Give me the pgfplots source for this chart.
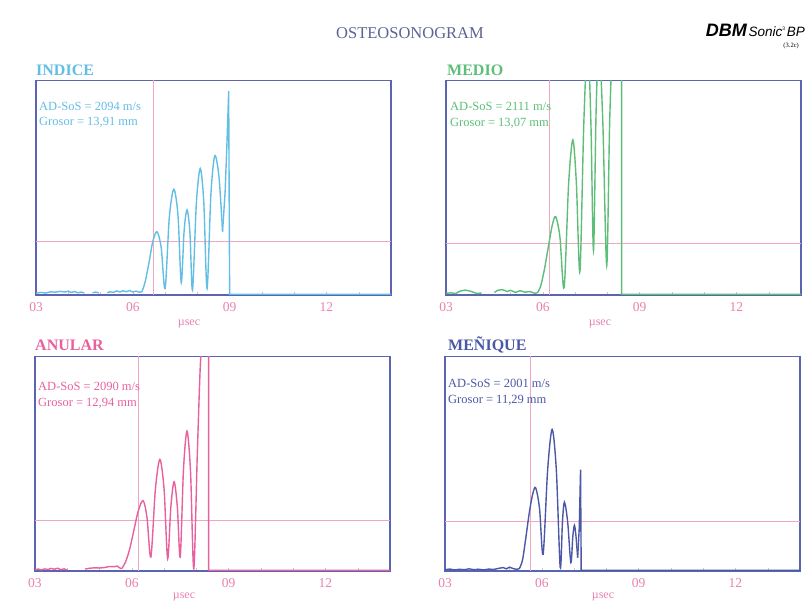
\documentclass[border=0pt]{standalone}
\usepackage{fontspec}
\setmainfont{Liberation Serif}
\newfontfamily\logofont{Liberation Sans}
\usepackage{pgfplots}
\pgfplotsset{compat=1.18}
\definecolor{cI}{HTML}{62BEE4}
\definecolor{cM}{HTML}{5CBE78}
\definecolor{cA}{HTML}{E8609E}
\definecolor{cN}{HTML}{4A58A6}
\definecolor{frame}{HTML}{5A64B0}
\definecolor{crossc}{HTML}{F0A8C2}
\definecolor{tickl}{HTML}{E880B0}
\definecolor{ttl}{HTML}{5A6494}
\pgfplotsset{panel/.style={
  anchor=south west, scale only axis, width=355pt, height=214.5pt,
  xmin=3, xmax=14, ymin=0, ymax=100,
  axis line style={frame, line width=1.2pt},
  xtick={3,6,9,12}, xticklabels={03,06,09,12},
  minor xtick={4,5,7,8,10,11,13},
  ytick=\empty, xtick pos=bottom, tick align=inside,
  major tick length=3pt, minor tick length=3pt,
  tick style={gray!45, thin},
  xticklabel style={font=\fontsize{13.5}{13.5}\selectfont, text=tickl, yshift=-4pt},
  unbounded coords=jump,
},
sig/.style={line width=1.4pt},
crossl/.style={draw=crossc, line width=0.7pt}}
\begin{document}
\begin{tikzpicture}
\path[use as bounding box] (0,0) rectangle (808pt,607pt);
% INDICE
\begin{axis}[panel, at={(36pt,312pt)}]
\addplot[crossl] coordinates {(6.65,0)(6.65,100)};
\addplot[crossl] coordinates {(3,25.2)(14,25.2)};
\addplot[sig, cI] coordinates {(3.0,0.8)(3.15,1.2)(3.3,0.9)(3.45,1.5)(3.6,1.3)(3.75,1.7)(3.9,1.4)(4.0,1.8)(4.1,1.2)(4.2,1.6)(4.3,1.0)(4.4,1.4)(4.5,0.9)(4.6,nan)(4.75,1.0)(4.85,1.4)(4.95,0.9)(5.05,nan)(5.2,1.1)(5.3,1.5)(5.4,1.2)(5.5,1.9)(5.6,1.4)(5.7,2.0)(5.8,1.5)(5.9,2.1)(6.0,1.4)(6.1,1.8)(6.2,1.3)(6.28,1.5)};
\addplot[sig, cI, smooth] coordinates {(6.28,1.5)(6.38,6)(6.5,15)(6.62,25)(6.75,29.5)(6.88,22)(7.0,3)(7.13,36)(7.27,49.3)(7.4,37)(7.5,5.8)(7.59,30)(7.68,39.7)(7.77,29)(7.85,2.3)(7.97,43)(8.09,59)(8.2,43)(8.3,3)(8.42,47)(8.54,64.9)(8.67,55)(8.78,29.5)};
\addplot[sig, cI] coordinates {(8.78,29.5)(8.86,48)(8.92,72)(8.97,95)(9.0,0.3)(14,0.3)};
\end{axis}
% MEDIO
\begin{axis}[panel, at={(446pt,312pt)}]
\addplot[crossl] coordinates {(6.2,0)(6.2,100)};
\addplot[crossl] coordinates {(3,24)(14,24)};
\addplot[sig, cM] coordinates {(3.0,0.8)(3.15,1.0)(3.3,0.7)(3.45,1.9)(3.6,2.3)(3.75,1.8)(3.9,1.0)(4.0,0.6)(4.1,1.0)(4.3,nan)(4.5,1.2)(4.6,2.2)(4.75,2.5)(4.9,1.6)(5.0,2.2)(5.15,1.2)(5.3,2.0)(5.45,1.3)(5.6,1.6)(5.75,0.8)(5.83,1.0)};
\addplot[sig, cM, smooth] coordinates {(5.83,1.0)(5.93,4)(6.05,12)(6.2,25)(6.30,33)(6.40,36.5)(6.53,27)(6.66,3.4)(6.80,52)(6.93,72.3)(7.04,52)(7.15,10.9)(7.27,80)(7.39,118)(7.49,80)(7.57,20.7)(7.65,85)(7.74,118)(7.86,80)(7.98,13.7)(8.07,80)(8.16,120)};
\addplot[sig, cM] coordinates {(8.16,120)(8.44,140)(8.44,0.3)(14,0.3)};
\end{axis}
% ANULAR
\begin{axis}[panel, at={(35pt,36pt)}]
\addplot[crossl] coordinates {(6.2,0)(6.2,100)};
\addplot[crossl] coordinates {(3,23.8)(14,23.8)};
\addplot[sig, cA] coordinates {(3.0,0.6)(3.1,0.9)(3.2,0.5)(3.3,1.0)(3.4,0.7)(3.5,1.2)(3.6,0.8)(3.7,1.3)(3.8,0.6)(3.9,1.0)(4.0,0.5)(4.3,nan)(4.55,0.9)(4.7,1.3)(4.85,1.5)(5.0,1.4)(5.15,1.6)(5.3,2.1)(5.45,2.0)(5.55,2.3)(5.62,1.5)(5.68,1.0)};
\addplot[sig, cA, smooth] coordinates {(5.68,1.0)(5.8,4)(5.93,10)(6.05,18)(6.2,28)(6.35,32.8)(6.47,25)(6.59,6.5)(6.73,38)(6.87,52)(7.0,38)(7.11,5.7)(7.21,30)(7.31,41.6)(7.41,30)(7.5,6.5)(7.6,47)(7.71,65.2)(7.82,46)(7.92,1.0)(8.03,55)(8.12,95)(8.2,115)};
\addplot[sig, cA] coordinates {(8.2,115)(8.38,130)(8.38,0.3)(14,0.3)};
\end{axis}
% MENIQUE
\begin{axis}[panel, at={(445pt,36pt)}]
\addplot[crossl] coordinates {(5.65,0)(5.65,100)};
\addplot[crossl] coordinates {(3,23.1)(14,23.1)};
\addplot[sig, cN] coordinates {(3.0,0.6)(3.15,0.9)(3.3,0.5)(3.45,0.8)(3.6,0.6)(3.75,1.0)(3.9,0.6)(4.05,0.8)(4.2,0.5)(4.35,0.9)(4.5,0.7)(4.65,1.2)(4.8,1.6)(4.9,1.0)(5.0,1.8)(5.1,1.2)(5.2,0.8)(5.3,1.0)};
\addplot[sig, cN, smooth] coordinates {(5.3,1.0)(5.4,5)(5.5,15)(5.62,28)(5.72,36)(5.81,38.8)(5.93,29)(6.04,7.8)(6.18,47)(6.32,66)(6.45,47)(6.57,1.6)(6.64,23)(6.70,32.1)(6.80,23)(6.90,3.9)(6.96,16)(7.01,21.3)(7.06,16)(7.11,6.2)};
\addplot[sig, cN] coordinates {(7.11,6.2)(7.16,20)(7.20,47.2)(7.22,0.3)(14,0.3)};
\end{axis}
% texts
\node[text=ttl, font=\fontsize{16.5}{16.5}\selectfont] at (410pt,574pt) {OSTEOSONOGRAM};
\node[anchor=east, inner sep=0] at (805pt,577pt) {{\logofont\fontsize{18}{18}\selectfont\bfseries\itshape DBM}\,{\logofont\fontsize{13.5}{13.5}\selectfont\itshape Sonic}\raisebox{6pt}{\logofont\fontsize{5}{5}\selectfont 3}\,{\logofont\fontsize{13.5}{13.5}\selectfont\itshape BP}};
\node[anchor=east, inner sep=0, font=\fontsize{6.5}{6.5}\selectfont] at (799pt,561pt) {(3.2c)};
\node[anchor=west, inner sep=0, text=cI, font=\fontsize{16}{16}\selectfont\bfseries] at (36pt,537pt) {INDICE};
\node[anchor=west, inner sep=0, text=cM, font=\fontsize{16}{16}\selectfont\bfseries] at (447pt,537pt) {MEDIO};
\node[anchor=west, inner sep=0, text=cA, font=\fontsize{16}{16}\selectfont\bfseries] at (35pt,262pt) {ANULAR};
\node[anchor=west, inner sep=0, text=cN, font=\fontsize{16}{16}\selectfont\bfseries] at (448pt,262pt) {MEÑIQUE};
\begin{scope}[every node/.style={anchor=west, inner sep=0, font=\fontsize{12.5}{12.5}\selectfont}]
\node[text=cI] at (39pt,501pt) {AD-SoS = 2094 m/s};
\node[text=cI] at (39pt,485pt) {Grosor = 13,91 mm};
\node[text=cM] at (450pt,501pt) {AD-SoS = 2111 m/s};
\node[text=cM] at (450pt,484pt) {Grosor = 13,07 mm};
\node[text=cA] at (38pt,221pt) {AD-SoS = 2090 m/s};
\node[text=cA] at (38pt,204pt) {Grosor = 12,94 mm};
\node[text=cN] at (448pt,224pt) {AD-SoS = 2001 m/s};
\node[text=cN] at (448pt,207pt) {Grosor = 11,29 mm};
\end{scope}
\begin{scope}[every node/.style={inner sep=0, text=tickl, font=\fontsize{12}{12}\selectfont}]
\node at (189pt,283pt) {µsec};
\node at (600pt,283pt) {µsec};
\node at (184pt,10pt) {µsec};
\node at (603pt,10pt) {µsec};
\end{scope}
\end{tikzpicture}
\end{document}
